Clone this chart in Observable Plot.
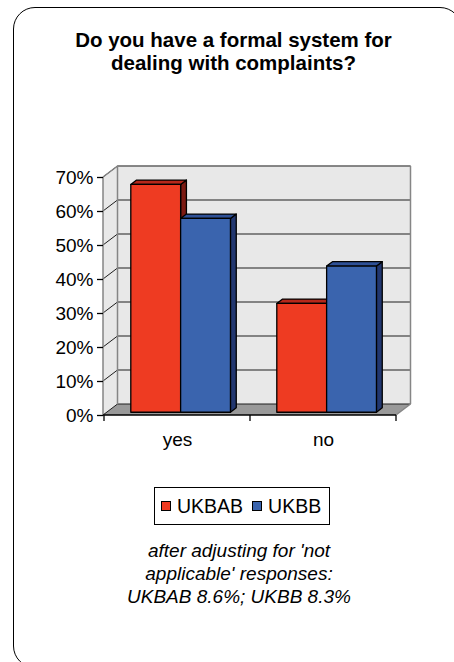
<!DOCTYPE html>
<html>
<head>
<meta charset="utf-8">
<script src="https://cdn.jsdelivr.net/npm/d3@7"></script>
<script src="https://cdn.jsdelivr.net/npm/@observablehq/plot@0.6"></script>
<style>
  html, body { margin: 0; padding: 0; background: #fff; }
  #card { position: relative; width: 454px; height: 662px; overflow: hidden;
          font-family: "Liberation Sans", Arial, Helvetica, sans-serif; color: #000; }
  #frame { position: absolute; left: 13px; top: 7px; width: 449px; height: 661px;
           border: 1.5px solid #000; border-radius: 22px; box-sizing: border-box; }
  #title { position: absolute; left: 0; width: 467px; top: 29px; margin: 0;
           text-align: center; font-weight: bold; font-size: 20.5px; line-height: 22.6px; }
  #chart { position: absolute; left: 0; top: 150px; }
  #legend { position: absolute; left: 154px; top: 487px; width: 176px; height: 38px;
            border: 1px solid #000; box-sizing: border-box; display: flex; align-items: center;
            padding-left: 6px; font-size: 19.5px; background: #fff; }
  #legend .item { display: flex; align-items: center; margin-right: 9px; }
  #legend .sw { width: 10px; height: 10px; border: 1px solid #000; box-sizing: border-box; margin-right: 6px; }
  #caption { position: absolute; left: 0; width: 478px; top: 539px; margin: 0;
             text-align: center; font-style: italic; font-size: 19px; line-height: 23px; }
</style>
</head>
<body>
<div id="card">
  <div id="frame"></div>
  <div id="title">Do you have a formal system for<br>dealing with complaints?</div>
  <div id="chart"></div>
  <div id="legend"></div>
  <div id="caption">after adjusting for 'not<br>applicable' responses:<br>UKBAB 8.6%; UKBB 8.3%</div>
</div>
<script>
// Survey answers (% of respondents)
const categories = ["yes", "no"];
const series = ["UKBAB", "UKBB"];
const ukbab = [67, 32];
const ukbb = [57, 43];
const yTicks = [0, 10, 20, 30, 40, 50, 60, 70];

// Face colours per series: front, top, side
const frontColors = ["#ee3b22", "#3a64ae"];
const topColors = ["#b5281b", "#2e5096"];
const sideColors = ["#7c1a12", "#223770"];

const rows = categories.flatMap((c, i) => [
  {category: c, series: series[0], value: ukbab[i]},
  {category: c, series: series[1], value: ukbb[i]}
]);

// Oblique projection of the depth axis, in pixels
const depth = {dx: 14.5, dy: -11};
const barDepth = {front: 0.25, back: 0.65};
const gridColor = "#1e1e1e";
const edgeColor = "#858585";

function poly(g, pts, attrs) {
  const p = g.append("polygon").attr("points", pts.map(d => d.join(",")).join(" "));
  for (const k in attrs) p.attr(k, attrs[k]);
  return p;
}
function seg(g, x1, y1, x2, y2, stroke, w) {
  g.append("line").attr("x1", x1).attr("y1", y1).attr("x2", x2).attr("y2", y2)
    .attr("stroke", stroke).attr("stroke-width", w);
}

// Back wall, side wall, floor and gridlines, all from the y ticks
function renderWalls(index, scales, values, dims) {
  const {width, height, marginLeft, marginRight, marginTop, marginBottom} = dims;
  const L = marginLeft, R = width - marginRight, T = marginTop, B = height - marginBottom;
  const {dx, dy} = depth;
  const g = d3.create("svg:g");
  poly(g, [[L + dx, T + dy], [R + dx, T + dy], [R + dx, B + dy], [L + dx, B + dy]], {fill: "#e8e8e8"});
  poly(g, [[L, T], [L + dx, T + dy], [L + dx, B + dy], [L, B]], {fill: "#e8e8e8"});
  poly(g, [[L, B], [R, B], [R + dx, B + dy], [L + dx, B + dy]], {fill: "#999999"});
  for (const i of index) {
    const py = values.y[i];
    seg(g, L + dx, py + dy, R + dx, py + dy, gridColor, 1);
    seg(g, L, py, L + dx, py + dy, gridColor, 1);
  }
  // wall edges
  seg(g, L + dx, T + dy, R + dx, T + dy, edgeColor, 1.5);
  seg(g, R + dx, T + dy, R + dx, B + dy, edgeColor, 1.5);
  seg(g, L + dx, T + dy, L + dx, B + dy, edgeColor, 1.5);
  seg(g, L, T, L, B, edgeColor, 1.5);
  seg(g, L, T, L + dx, T + dy, edgeColor, 1.5);
  seg(g, R, B, R + dx, B + dy, edgeColor, 1.5);
  // category axis with boundary ticks
  seg(g, L, B, R, B, "#000", 1.3);
  const x = scales.x;
  const bw = x.bandwidth ? x.bandwidth() : (R - L) / categories.length;
  const edges = new Set();
  for (const c of categories) { edges.add(x(c)); edges.add(x(c) + bw); }
  for (const e of edges) seg(g, e, B, e, B + 6, "#000", 1.3);
  return g.node();
}

// 3D bars: side, top, then front face
function renderBars(index, scales, values) {
  const bw = scales.x.bandwidth();
  const sub = d3.scaleBand().domain(series).range([0, bw]).paddingInner(0).paddingOuter(0.465);
  const {dx, dy} = depth;
  const fx = barDepth.front * dx, fy = barDepth.front * dy;
  const ddx = (barDepth.back - barDepth.front) * dx, ddy = (barDepth.back - barDepth.front) * dy;
  const g = d3.create("svg:g")
    .attr("stroke", "#000").attr("stroke-width", 1.3).attr("stroke-linejoin", "round");
  for (const i of index) {
    const k = series.indexOf(rows[i].series);
    const x0 = values.x[i] + sub(rows[i].series) + fx, x1 = x0 + sub.bandwidth();
    const yb = values.y1[i] + fy, yt = values.y2[i] + fy;
    poly(g, [[x1, yt], [x1 + ddx, yt + ddy], [x1 + ddx, yb + ddy], [x1, yb]], {fill: sideColors[k]});
    poly(g, [[x0, yt], [x1, yt], [x1 + ddx, yt + ddy], [x0 + ddx, yt + ddy]], {fill: topColors[k]});
    poly(g, [[x0, yt], [x1, yt], [x1, yb], [x0, yb]], {fill: values.fill ? values.fill[i] : frontColors[k]});
  }
  return g.node();
}

const plot = Plot.plot({
  width: 454,
  height: 310,
  marginLeft: 103,
  marginRight: 58,
  marginTop: 27,
  marginBottom: 45,
  style: {fontFamily: "'Liberation Sans', Arial, sans-serif", fontSize: "19px", color: "#000", background: "transparent", overflow: "visible"},
  x: {domain: categories, padding: 0},
  y: {domain: [0, 70]},
  color: {domain: series, range: frontColors},
  marks: [
    Plot.ruleY(yTicks, {y: d => d, render: renderWalls}),
    Plot.barY(rows, {x: "category", y1: 0, y2: "value", fill: "series", render: renderBars}),
    Plot.axisY({ticks: yTicks, tickFormat: d => d + "%", tickSize: 6, tickPadding: 4, label: null, stroke: "#000", strokeWidth: 1.3}),
    Plot.axisX({tickSize: 0, tickPadding: 17, label: null})
  ]
});
document.getElementById("chart").append(plot);

const legend = d3.select("#legend");
series.forEach((s, k) => {
  const item = legend.append("div").attr("class", "item");
  item.append("div").attr("class", "sw").style("background", frontColors[k]);
  item.append("span").text(s);
});
</script>
</body>
</html>
